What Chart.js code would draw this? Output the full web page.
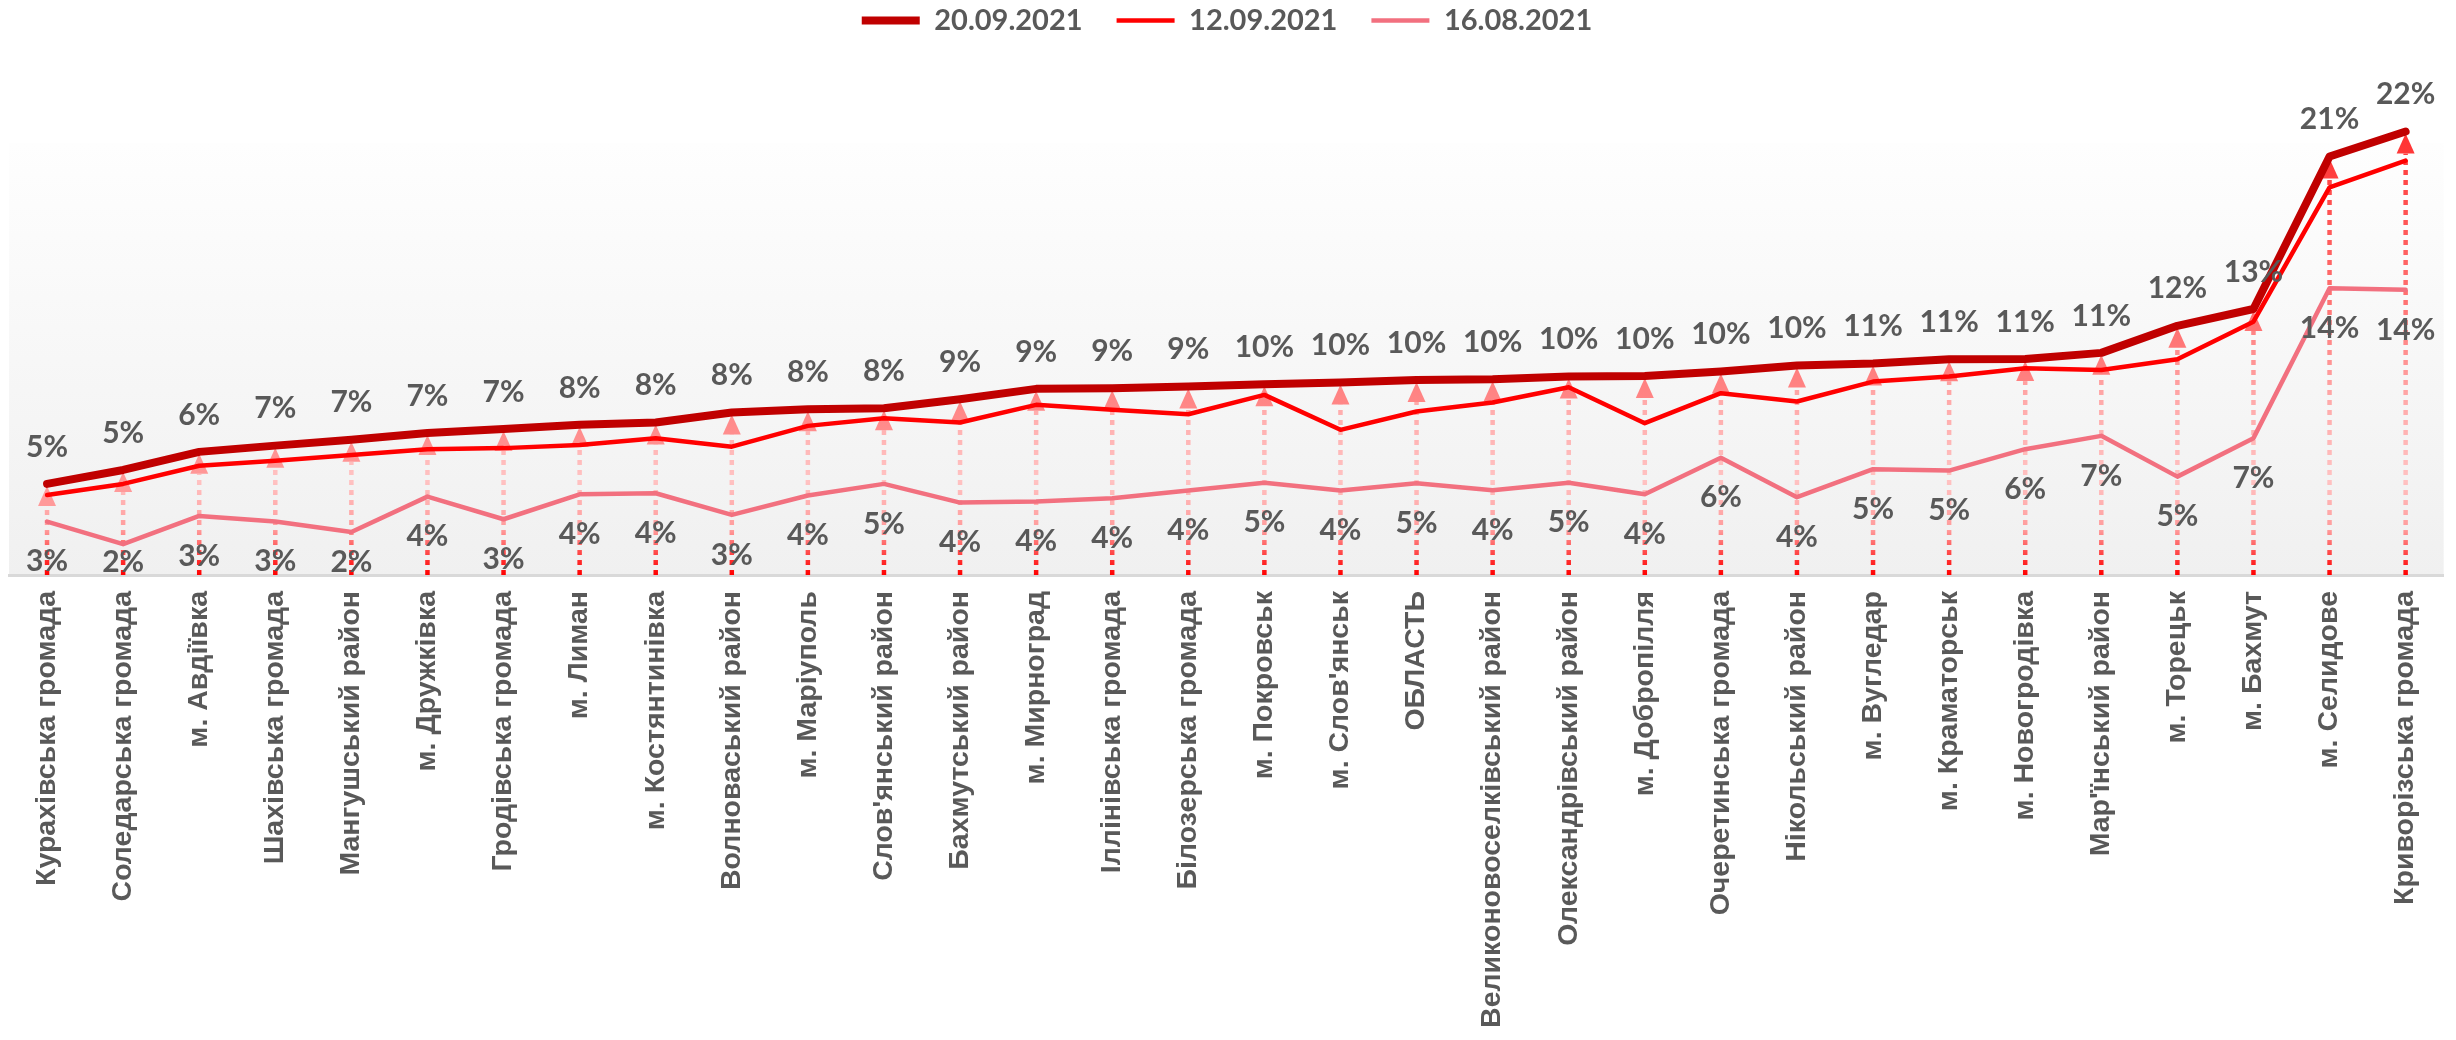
<!DOCTYPE html>
<html>
<head>
<meta charset="utf-8">
<script src="https://cdn.jsdelivr.net/npm/chart.js@4.4.0/dist/chart.umd.min.js"></script>
<style>
  html, body { margin: 0; padding: 0; background: #ffffff; }
  #wrap { width: 2456px; height: 1040px; }
</style>
</head>
<body>
<div id="wrap"><canvas id="chart" width="2456" height="1040"></canvas></div>
<script>
// Categories (x axis)
const categories = [
    'Курахівська громада', 'Соледарська громада', 'м. Авдіївка', 'Шахівська громада',
    'Мангушський район', 'м. Дружківка', 'Гродівська громада', 'м. Лиман',
    'м. Костянтинівка', 'Волноваський район', 'м. Маріуполь', "Слов'янський район",
    'Бахмутський район', 'м. Мирноград', 'Іллінівська громада', 'Білозерська громада',
    'м. Покровськ', "м. Слов'янськ", 'ОБЛАСТЬ', 'Великоновоселківський район',
    'Олександрівський район', 'м. Добропілля', 'Очеретинська громада', 'Нікольський район',
    'м. Вугледар', 'м. Краматорськ', 'м. Новогродівка', "Мар'їнський район",
    'м. Торецьк', 'м. Бахмут', 'м. Селидове', 'Криворізська громада'
];

// Series values, in %
const series20_09 = [4.76, 5.43, 6.3, 6.6, 6.88, 7.21, 7.4, 7.6, 7.71, 8.19, 8.35, 8.4,
    8.83, 9.33, 9.36, 9.44, 9.55, 9.63, 9.76, 9.79, 9.92, 9.95, 10.16, 10.45,
    10.55, 10.75, 10.76, 11.06, 12.36, 13.17, 20.5, 21.7];
const series12_09 = [4.23, 4.76, 5.63, 5.87, 6.15, 6.43, 6.48, 6.63, 6.96, 6.55, 7.55, 7.92,
    7.71, 8.56, 8.32, 8.11, 9.04, 7.36, 8.24, 8.67, 9.41, 7.68, 9.12, 8.72,
    9.68, 9.92, 10.32, 10.24, 10.75, 12.56, 19.02, 20.3];
const series16_08 = [2.95, 1.86, 3.22, 2.95, 2.45, 4.15, 3.06, 4.26, 4.31, 3.27, 4.2, 4.76,
    3.86, 3.91, 4.07, 4.44, 4.82, 4.44, 4.79, 4.45, 4.82, 4.26, 6.02, 4.12,
    5.47, 5.4, 6.43, 7.07, 5.11, 6.96, 14.17, 14.09];

const seriesNames = ['20.09.2021', '12.09.2021', '16.08.2021'];

const labelColor = '#595959';
const labelFont = 'bold 30px Lato';

// Light vertical gradient behind the plot area
const plotBackground = {
    id: 'plotBackground',
    beforeDraw(chart) {
        const {ctx, chartArea: a} = chart;
        const g = ctx.createLinearGradient(0, a.top, 0, a.bottom);
        g.addColorStop(0, '#fefefe');
        g.addColorStop(1, '#f0f0f0');
        ctx.save();
        ctx.fillStyle = g;
        ctx.fillRect(a.left, a.top, a.right - a.left, a.bottom - a.top);
        ctx.restore();
    }
};

// Dotted drop lines with arrow heads, from the axis up to the latest value
const dropArrows = {
    id: 'dropArrows',
    beforeDatasetsDraw(chart) {
        const {ctx, chartArea: a} = chart;
        const xs = chart.scales.x, ys = chart.scales.y;
        const top = a.top - 15;
        const lineGrad = ctx.createLinearGradient(0, top, 0, a.bottom);
        lineGrad.addColorStop(0, '#ff3535');
        lineGrad.addColorStop(0.385, '#ff7272');
        lineGrad.addColorStop(0.61, '#ffaaaa');
        lineGrad.addColorStop(0.79, '#ffc2c2');
        lineGrad.addColorStop(0.9, '#ff9a9a');
        lineGrad.addColorStop(0.966, '#ff3030');
        lineGrad.addColorStop(1, '#ff0000');
        const arrowGrad = ctx.createLinearGradient(0, top, 0, a.bottom);
        arrowGrad.addColorStop(0, '#ff3030');
        arrowGrad.addColorStop(0.385, '#ff6a6a');
        arrowGrad.addColorStop(0.56, '#ff8080');
        arrowGrad.addColorStop(0.8, '#ff9a9a');
        arrowGrad.addColorStop(1, '#ff9a9a');

        ctx.save();
        series20_09.forEach((v, i) => {
            const x = xs.getPixelForValue(i);
            const tip = ys.getPixelForValue(v) + 2;
            const base = tip + 20;
            ctx.beginPath();
            ctx.setLineDash([5, 5]);
            ctx.lineWidth = 4.5;
            ctx.strokeStyle = lineGrad;
            ctx.moveTo(x, a.bottom);
            ctx.lineTo(x, base);
            ctx.stroke();
            ctx.setLineDash([]);
            ctx.beginPath();
            ctx.fillStyle = arrowGrad;
            ctx.moveTo(x, tip);
            ctx.lineTo(x - 9, base);
            ctx.lineTo(x + 9, base);
            ctx.closePath();
            ctx.fill();
        });
        ctx.restore();
    }
};

// Value labels: above the 20.09 line, below the 16.08 line
const valueLabels = {
    id: 'valueLabels',
    afterDatasetsDraw(chart) {
        const {ctx, chartArea: a} = chart;
        ctx.save();
        ctx.font = labelFont;
        ctx.fillStyle = labelColor;
        ctx.textAlign = 'center';
        ctx.textBaseline = 'middle';
        chart.getDatasetMeta(0).data.forEach((pt, i) => {
            ctx.fillText(Math.round(series20_09[i]) + '%', pt.x, pt.y - 37);
        });
        chart.getDatasetMeta(2).data.forEach((pt, i) => {
            const y = Math.min(pt.y + 40, a.bottom - 13);
            ctx.fillText(Math.round(series16_08[i]) + '%', pt.x, y);
        });
        ctx.restore();
    }
};

// Make the legend block tall enough to leave a gap above the plot
const legendSpacer = {
    id: 'legendSpacer',
    beforeLayout(chart) {
        const lg = chart.legend;
        if (!lg || lg._spaced) return;
        const fit = lg.fit;
        lg.fit = function () {
            fit.call(this);
            this.height = 171;
        };
        lg._spaced = true;
    }
};

const ctx = document.getElementById('chart').getContext('2d');
new Chart(ctx, {
    type: 'line',
    data: {
        labels: categories,
        datasets: [{
            label: seriesNames[0],
            data: series20_09,
            borderColor: '#c00000',
            backgroundColor: '#c00000',
            borderWidth: 8,
            borderCapStyle: 'round',
            borderJoinStyle: 'round',
            pointRadius: 0,
            tension: 0,
            clip: false,
            order: 0
        }, {
            label: seriesNames[1],
            data: series12_09,
            borderColor: '#ff0000',
            backgroundColor: '#ff0000',
            borderWidth: 4.5,
            borderCapStyle: 'round',
            borderJoinStyle: 'round',
            pointRadius: 0,
            tension: 0,
            clip: false,
            order: 1
        }, {
            label: seriesNames[2],
            data: series16_08,
            borderColor: '#f2707f',
            backgroundColor: '#f2707f',
            borderWidth: 4.5,
            borderCapStyle: 'round',
            borderJoinStyle: 'round',
            pointRadius: 0,
            tension: 0,
            clip: false,
            order: 2
        }]
    },
    options: {
        responsive: false,
        animation: false,
        devicePixelRatio: 1,
        layout: {
            padding: {left: 9, right: 11, top: -28, bottom: 0}
        },
        scales: {
            x: {
                offset: true,
                grid: {display: false, drawTicks: false},
                border: {display: true, color: '#d9d9d9', width: 3},
                ticks: {
                    autoSkip: false,
                    maxRotation: 90,
                    minRotation: 90,
                    padding: 16,
                    color: labelColor,
                    font: {family: 'Liberation Sans', size: 28.5, weight: 'bold'}
                },
                afterFit(scale) {
                    scale.height = 465;
                }
            },
            y: {
                display: false,
                min: 0.38,
                max: 21.15
            }
        },
        plugins: {
            legend: {
                position: 'top',
                labels: {
                    usePointStyle: true,
                    pointStyle: 'line',
                    pointStyleWidth: 58,
                    padding: 34,
                    color: labelColor,
                    font: {family: 'Lato', size: 29, weight: 'bold'}
                }
            },
            tooltip: {enabled: false}
        }
    },
    plugins: [plotBackground, dropArrows, valueLabels, legendSpacer]
});
</script>
</body>
</html>
